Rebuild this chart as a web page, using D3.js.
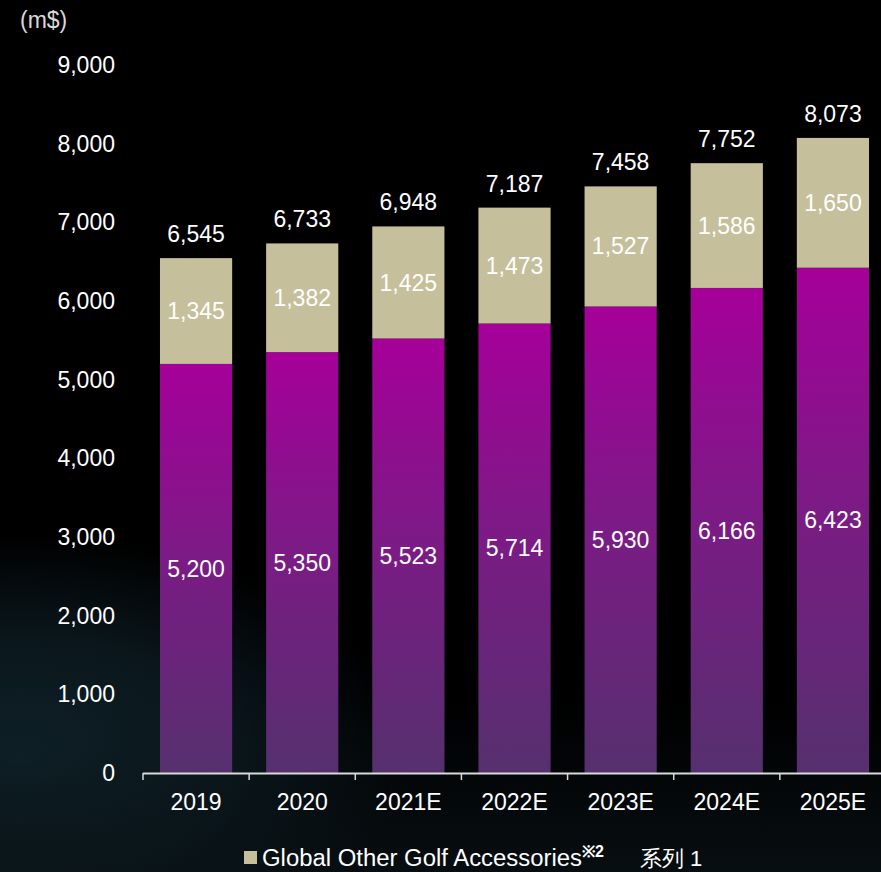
<!DOCTYPE html>
<html>
<head>
<meta charset="utf-8">
<script src="https://cdn.jsdelivr.net/npm/d3@7/dist/d3.min.js"></script>
<style>
  html, body { margin: 0; padding: 0; background: #000; }
  svg { display: block; }
  text { font-family: "Liberation Sans", Arial, sans-serif; }
</style>
</head>
<body>
<script>
const categories = ["2019", "2020", "2021E", "2022E", "2023E", "2024E", "2025E"];
const series1 = [5200, 5350, 5523, 5714, 5930, 6166, 6423];
const accessories = [1345, 1382, 1425, 1473, 1527, 1586, 1650];
const totals = [6545, 6733, 6948, 7187, 7458, 7752, 8073];
const yTicks = [0, 1000, 2000, 3000, 4000, 5000, 6000, 7000, 8000, 9000];

const W = 881, H = 872;
const FS = 23;
const svg = d3.select("body").append("svg").attr("width", W).attr("height", H);
const defs = svg.append("defs");

// background glow (photo texture approximation)
svg.append("rect").attr("width", W).attr("height", H).attr("fill", "#000");
const bg = defs.append("radialGradient").attr("id", "bgGlow")
  .attr("gradientUnits", "userSpaceOnUse")
  .attr("cx", 20).attr("cy", 760).attr("r", 300)
  .attr("gradientTransform", "translate(20,760) scale(1.3,0.75) translate(-20,-760)");
bg.append("stop").attr("offset", "0%").attr("stop-color", "#0f2229");
bg.append("stop").attr("offset", "55%").attr("stop-color", "#0a161b");
bg.append("stop").attr("offset", "100%").attr("stop-color", "#000000");
svg.append("rect").attr("width", W).attr("height", H).attr("fill", "url(#bgGlow)");
const bg2 = defs.append("linearGradient").attr("id", "bgBottom")
  .attr("x1", 0).attr("y1", 0).attr("x2", 0).attr("y2", 1);
bg2.append("stop").attr("offset", "0%").attr("stop-color", "#0a1418").attr("stop-opacity", 0);
bg2.append("stop").attr("offset", "100%").attr("stop-color", "#0a1418").attr("stop-opacity", 0.7);
svg.append("rect").attr("x", 0).attr("y", 700).attr("width", W).attr("height", H - 700).attr("fill", "url(#bgBottom)");

const purple = defs.append("linearGradient").attr("id", "purpleGrad")
  .attr("x1", 0).attr("y1", 0).attr("x2", 0).attr("y2", 1);
purple.append("stop").attr("offset", "0%").attr("stop-color", "#a6009a");
purple.append("stop").attr("offset", "45%").attr("stop-color", "#7d1a86");
purple.append("stop").attr("offset", "100%").attr("stop-color", "#55306e");

const x = d3.scaleBand().domain(categories).range([143, 886]).paddingInner(0.32).paddingOuter(0.16);
const y = d3.scaleLinear().domain([0, 9000]).range([773, 65]);

// y tick labels
svg.append("g").selectAll("text").data(yTicks).join("text")
  .attr("x", 115).attr("y", d => y(d)).attr("dy", "0.35em")
  .attr("text-anchor", "end").attr("fill", "#ffffff").attr("font-size", FS)
  .text(d => d3.format(",")(d));

// unit label
svg.append("text").attr("x", 20).attr("y", 28).attr("fill", "#d9d9d9")
  .attr("font-size", FS).text("(m$)");

// bars: series 1
svg.append("g").selectAll("rect").data(categories).join("rect")
  .attr("x", d => x(d)).attr("width", x.bandwidth())
  .attr("y", (d, i) => y(series1[i]))
  .attr("height", (d, i) => y(0) - y(series1[i]))
  .attr("fill", "url(#purpleGrad)");

// bars: accessories
svg.append("g").selectAll("rect").data(categories).join("rect")
  .attr("x", d => x(d)).attr("width", x.bandwidth())
  .attr("y", (d, i) => y(series1[i] + accessories[i]))
  .attr("height", (d, i) => y(series1[i]) - y(series1[i] + accessories[i]))
  .attr("fill", "#c5bf9b");

// segment labels
svg.append("g").selectAll("text").data(categories).join("text")
  .attr("x", d => x(d) + x.bandwidth() / 2)
  .attr("y", (d, i) => (y(0) + y(series1[i])) / 2).attr("dy", "0.35em")
  .attr("text-anchor", "middle").attr("fill", "#fff").attr("font-size", FS)
  .text((d, i) => d3.format(",")(series1[i]));
svg.append("g").selectAll("text").data(categories).join("text")
  .attr("x", d => x(d) + x.bandwidth() / 2)
  .attr("y", (d, i) => (y(series1[i]) + y(series1[i] + accessories[i])) / 2).attr("dy", "0.35em")
  .attr("text-anchor", "middle").attr("fill", "#fff").attr("font-size", FS)
  .text((d, i) => d3.format(",")(accessories[i]));

// total labels
svg.append("g").selectAll("text").data(categories).join("text")
  .attr("x", d => x(d) + x.bandwidth() / 2)
  .attr("y", (d, i) => y(totals[i]) - 24).attr("dy", "0.35em")
  .attr("text-anchor", "middle").attr("fill", "#fff").attr("font-size", FS)
  .text((d, i) => d3.format(",")(totals[i]));

// x axis
const axisG = svg.append("g");
axisG.append("line").attr("x1", 143).attr("x2", 886).attr("y1", 773.5).attr("y2", 773.5)
  .attr("stroke", "#d9d9d9").attr("stroke-width", 2);
const step = x.step();
const bounds = d3.range(categories.length + 1).map(i => 143 + i * step);
axisG.selectAll("line.tick").data(bounds).join("line").attr("class", "tick")
  .attr("x1", d => d).attr("x2", d => d).attr("y1", 773).attr("y2", 780)
  .attr("stroke", "#d9d9d9").attr("stroke-width", 1.5);
axisG.selectAll("text").data(categories).join("text")
  .attr("x", d => x(d) + x.bandwidth() / 2).attr("y", 802).attr("dy", "0.35em")
  .attr("text-anchor", "middle").attr("fill", "#fff").attr("font-size", FS)
  .text(d => d);

// legend
const lg = svg.append("g");
lg.append("rect").attr("x", 244).attr("y", 851).attr("width", 13).attr("height", 13).attr("fill", "#c5bf9b");
const lt = lg.append("text").attr("x", 262).attr("y", 866).attr("fill", "#fff").attr("font-size", 23.5);
lt.append("tspan").attr("textLength", 320).attr("lengthAdjust", "spacingAndGlyphs").text("Global Other Golf Accessories");
lt.append("tspan").attr("dy", -9).attr("font-size", 16).attr("font-weight", "bold").text("※2");
lg.append("text").attr("x", 640).attr("y", 866).attr("fill", "#fff").attr("font-size", 22)
  .attr("font-family", "'Noto Sans CJK JP', 'Noto Sans CJK SC', sans-serif").text("系列 1");
</script>
</body>
</html>
